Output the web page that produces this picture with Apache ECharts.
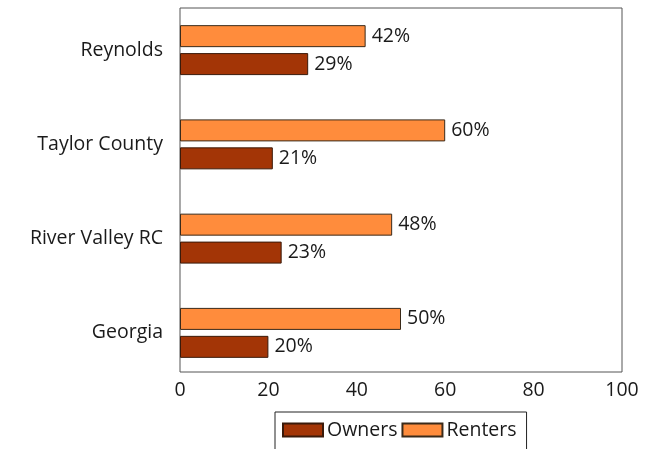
<!DOCTYPE html>
<html>
<head>
<meta charset="utf-8">
<script src="https://cdn.jsdelivr.net/npm/echarts@6/dist/echarts.min.js"></script>
<style>
  html, body { margin: 0; padding: 0; background: #fff; }
  #chart { width: 657px; height: 449px; }
</style>
</head>
<body>
<div id="chart"></div>
<script>
// categories listed bottom to top
const places = ['Georgia', 'River Valley RC', 'Taylor County', 'Reynolds']
const owners = [20, 23, 21, 29]
const renters = [50, 48, 60, 42]
const xTicks = [0, 20, 40, 60, 80, 100]

const font = 'Open Sans'
const fs = 19.5
const chart = echarts.init(document.getElementById('chart'))

const barLabel = {
  show: true,
  position: 'right',
  distance: 6,
  formatter: '{c}%',
  fontFamily: font,
  fontSize: fs,
  color: '#1a1a1a'
}

chart.setOption({
  animation: false,
  textStyle: { fontFamily: font },
  grid: [
    // bars
    { left: 180, right: 35, top: 3, height: 377 },
    // frame + x labels
    { left: 180, right: 35, top: 8, height: 364, show: true, borderColor: '#555', borderWidth: 1, backgroundColor: 'transparent' }
  ],
  legend: {
    data: ['Owners', 'Renters'],
    icon: 'rect',
    left: 275,
    top: 412,
    orient: 'horizontal',
    itemWidth: 40,
    itemHeight: 13,
    itemGap: 4,
    padding: [8, 10, 20, 7],
    borderColor: '#222',
    borderWidth: 1,
    backgroundColor: '#fff',
    textStyle: { fontFamily: font, fontSize: fs, color: '#1a1a1a', padding: [0, 0, 0, -1] }
  },
  xAxis: [
    { gridIndex: 0, type: 'value', min: 0, max: 100, show: false },
    {
      gridIndex: 1, type: 'value', min: 0, max: 100, interval: 20,
      axisLine: { show: false },
      axisTick: { show: false },
      splitLine: { show: false },
      axisLabel: {
        fontFamily: font, fontSize: fs, color: '#1a1a1a', margin: 8,
        customValues: xTicks
      }
    }
  ],
  yAxis: [
    {
      gridIndex: 0, type: 'category', data: places,
      axisLine: { show: false },
      axisTick: { show: false },
      axisLabel: { fontFamily: font, fontSize: fs, color: '#1a1a1a', margin: 17 }
    },
    { gridIndex: 1, type: 'value', show: false }
  ],
  series: [
    {
      name: 'Renters', type: 'bar', xAxisIndex: 0, yAxisIndex: 0,
      data: renters, barWidth: 22, barGap: '27%',
      itemStyle: { color: '#ff8c3c', borderColor: '#3a2a1a', borderWidth: 1 },
      label: barLabel
    },
    {
      name: 'Owners', type: 'bar', xAxisIndex: 0, yAxisIndex: 0,
      data: owners, barWidth: 22, barGap: '27%',
      itemStyle: { color: '#a33506', borderColor: '#3a1a0a', borderWidth: 1 },
      label: barLabel
    }
  ]
})
</script>
</body>
</html>
